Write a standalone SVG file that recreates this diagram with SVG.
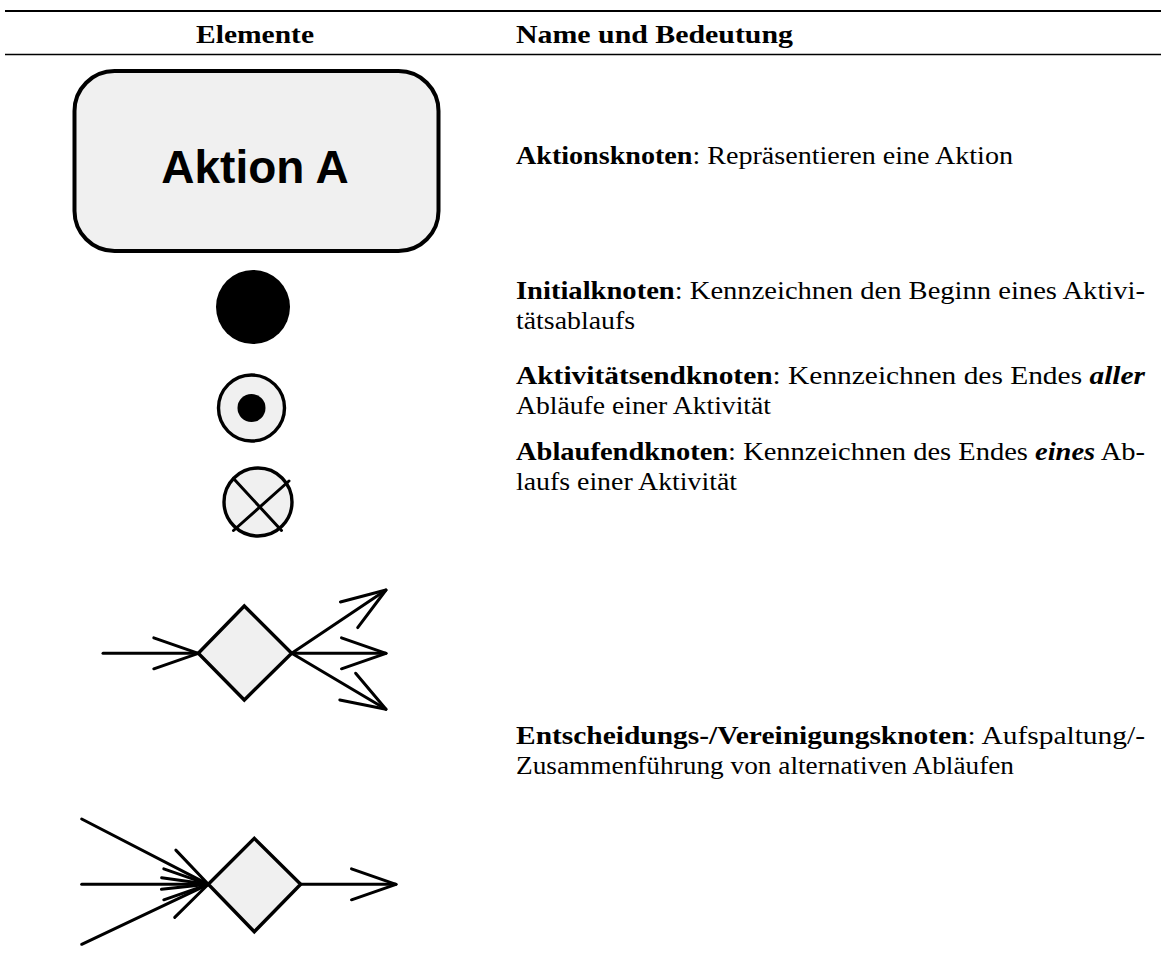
<svg xmlns="http://www.w3.org/2000/svg" width="1161" height="966" viewBox="0 0 1161 966">
  <style>
    .rule { stroke: #000; }
    .hd { font-family: "Liberation Serif", serif; font-weight: bold; font-size: 25px; fill: #000; }
    .desc { font-family: "Liberation Serif", serif; font-size: 25px; fill: #000; }
    .b { font-weight: bold; }
    .bi { font-weight: bold; font-style: italic; }
    .shape { fill: #f0f0f0; stroke: #000; stroke-width: 3.4; }
    .edge { fill: none; stroke: #000; stroke-width: 3; stroke-linecap: round; }
    .label { font-family: "Liberation Sans", Arial, sans-serif; font-weight: bold; font-size: 46px; fill: #000; }
  </style>
  <defs>
    <marker id="open-arrow" markerUnits="userSpaceOnUse" viewBox="-50 -25 60 50" refX="0" refY="0" markerWidth="60" markerHeight="50" orient="auto" overflow="visible">
      <path d="M-44.5,-15.5 L0,0 L-44.5,15.5" fill="none" stroke="#000" stroke-width="3" stroke-linecap="round" stroke-linejoin="round"/>
    </marker>
  </defs>

  <rect width="1161" height="966" fill="#fff"/>

  <!-- table rules and column heads -->
  <g id="table-head">
    <line class="rule" x1="5" y1="11" x2="1161" y2="11" stroke-width="2.2"/>
    <line class="rule" x1="5" y1="54.5" x2="1161" y2="54.5" stroke-width="1.4"/>
    <text class="hd" x="196" y="43" textLength="118" lengthAdjust="spacingAndGlyphs">Elemente</text>
    <text class="hd" x="516" y="43" textLength="277" lengthAdjust="spacingAndGlyphs">Name und Bedeutung</text>
  </g>

  <!-- action node -->
  <g id="node-action">
    <rect x="74.5" y="71" width="364" height="180" rx="40" ry="40" fill="#f0f0f0" stroke="#000" stroke-width="4"/>
    <text class="label" x="255" y="183" text-anchor="middle">Aktion A</text>
  </g>

  <!-- initial node -->
  <g id="node-initial">
    <circle cx="253" cy="307" r="37" fill="#000"/>
  </g>

  <!-- activity final node -->
  <g id="node-activity-final">
    <circle class="shape" cx="251.5" cy="408" r="33"/>
    <circle cx="251.5" cy="408" r="14" fill="#000"/>
  </g>

  <!-- flow final node -->
  <g id="node-flow-final">
    <circle class="shape" cx="258" cy="502" r="34"/>
    <line class="edge" x1="233.5" y1="478.5" x2="281.5" y2="530.5"/>
    <line class="edge" x1="289" y1="481" x2="233.5" y2="530.5"/>
  </g>

  <!-- decision node (split) -->
  <g id="node-decision-split">
    <polygon class="shape" stroke-width="3" points="198.3,653.3 244.3,606 291.7,653.3 244.3,700"/>
  </g>

  <!-- decision node (merge) -->
  <g id="node-decision-merge">
    <polygon class="shape" stroke-width="3" points="208.3,884.3 254.3,838.3 300.7,884.3 254.3,931.7"/>
  </g>

  <!-- control flows -->
  <g id="connectors">
    <line class="edge" x1="103" y1="653.3" x2="198.3" y2="653.3" marker-end="url(#open-arrow)"/>
    <line class="edge" x1="291.7" y1="653.3" x2="386" y2="590" marker-end="url(#open-arrow)"/>
    <line class="edge" x1="291.7" y1="653.3" x2="386" y2="653.3" marker-end="url(#open-arrow)"/>
    <line class="edge" x1="291.7" y1="653.3" x2="386" y2="709.3" marker-end="url(#open-arrow)"/>

    <line class="edge" x1="81.7" y1="819" x2="208.3" y2="884.3" marker-end="url(#open-arrow)"/>
    <line class="edge" x1="81.7" y1="884.3" x2="208.3" y2="884.3" marker-end="url(#open-arrow)"/>
    <line class="edge" x1="81.7" y1="944.3" x2="208.3" y2="884.3" marker-end="url(#open-arrow)"/>
    <line class="edge" x1="300.7" y1="884.3" x2="396" y2="884.3" marker-end="url(#open-arrow)"/>
  </g>

  <!-- descriptions -->
  <g id="descriptions" class="desc">
    <text x="516" y="164" textLength="497" lengthAdjust="spacingAndGlyphs"><tspan class="b">Aktionsknoten</tspan>: Repräsentieren eine Aktion</text>

    <text x="516" y="299" textLength="629" lengthAdjust="spacingAndGlyphs"><tspan class="b">Initialknoten</tspan>: Kennzeichnen den Beginn eines Aktivi-</text>
    <text x="516" y="329" textLength="119" lengthAdjust="spacingAndGlyphs">tätsablaufs</text>

    <text x="516" y="384" textLength="629" lengthAdjust="spacingAndGlyphs"><tspan class="b">Aktivitätsendknoten</tspan>: Kennzeichnen des Endes <tspan class="bi">aller</tspan></text>
    <text x="516" y="414" textLength="255" lengthAdjust="spacingAndGlyphs">Abläufe einer Aktivität</text>

    <text x="516" y="460" textLength="629" lengthAdjust="spacingAndGlyphs"><tspan class="b">Ablaufendknoten</tspan>: Kennzeichnen des Endes <tspan class="bi">eines</tspan> Ab-</text>
    <text x="516" y="490" textLength="221" lengthAdjust="spacingAndGlyphs">laufs einer Aktivität</text>

    <text x="516" y="744" textLength="629" lengthAdjust="spacingAndGlyphs"><tspan class="b">Entscheidungs-/Vereinigungsknoten</tspan>: Aufspaltung/-</text>
    <text x="516" y="774" textLength="498" lengthAdjust="spacingAndGlyphs">Zusammenführung von alternativen Abläufen</text>
  </g>
</svg>
